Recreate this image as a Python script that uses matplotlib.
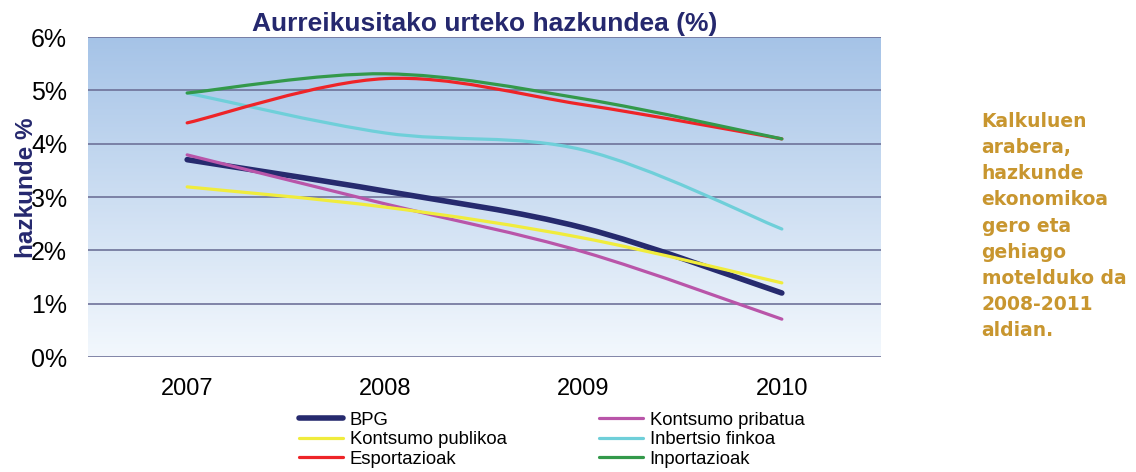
import numpy as np
import matplotlib
matplotlib.use("Agg")
import matplotlib.pyplot as plt
from matplotlib.path import Path
from matplotlib.patches import PathPatch
from matplotlib.lines import Line2D
from matplotlib.colors import LinearSegmentedColormap

years = ["2007", "2008", "2009", "2010"]
y_ticks = [0, 1, 2, 3, 4, 5, 6]
y_tick_labels = ["0%", "1%", "2%", "3%", "4%", "5%", "6%"]

bpg = [3.70, 3.11, 2.42, 1.20]
kontsumo_pribatua = [3.79, 2.87, 1.97, 0.71]
kontsumo_publikoa = [3.19, 2.81, 2.23, 1.39]
inbertsio_finkoa = [4.95, 4.20, 3.88, 2.40]
esportazioak = [4.39, 5.22, 4.73, 4.09]
inportazioak = [4.95, 5.31, 4.84, 4.09]

series_names = ["BPG", "Kontsumo pribatua", "Kontsumo publikoa",
                "Inbertsio finkoa", "Esportazioak", "Inportazioak"]
series_values = [bpg, kontsumo_pribatua, kontsumo_publikoa,
                 inbertsio_finkoa, esportazioak, inportazioak]
colors = ["#262a6e", "#b955a9", "#f0ec3c", "#6fcfd9", "#ee2428", "#33994a"]
widths = [4.0, 2.3, 2.3, 2.3, 2.3, 2.3]

note = "Kalkuluen\narabera,\nhazkunde\nekonomikoa\ngero eta\ngehiago\nmotelduko da\n2008-2011\naldian."

NAVY = "#25286e"
GRID = "#6e7299"


def smooth_path(xs, ys):
    # Excel-style smoothed line: Catmull-Rom segments as cubic Beziers
    pts = np.column_stack([xs, ys]).astype(float)
    ext = np.vstack([pts[0], pts, pts[-1]])
    verts = [pts[0]]
    codes = [Path.MOVETO]
    for i in range(len(pts) - 1):
        p0, p1, p2, p3 = ext[i], ext[i + 1], ext[i + 2], ext[i + 3]
        c1 = p1 + (p2 - p0) / 6.0
        c2 = p2 - (p3 - p1) / 6.0
        verts += [c1, c2, p2]
        codes += [Path.CURVE4] * 3
    return Path(verts, codes)


fig = plt.figure(figsize=(11.36, 4.72), dpi=100)
ax = fig.add_axes([0.0775, 0.2436, 0.698, 0.678])

x = np.arange(len(years))
ax.set_xlim(-0.5, len(years) - 0.5)
ax.set_ylim(0, 6)

# gradient plot-area fill
cmap = LinearSegmentedColormap.from_list("bg", ["#f3f8fd", "#a5c3e7"])
grad = np.linspace(0, 1, 256).reshape(-1, 1)
ax.imshow(grad, extent=[-0.5, len(years) - 0.5, 0, 6], origin="lower",
          aspect="auto", cmap=cmap, zorder=0)

for t in y_ticks:
    ax.axhline(t, color=GRID, lw=1.2, zorder=1)

for name, vals, c, w in zip(series_names, series_values, colors, widths):
    patch = PathPatch(smooth_path(x, vals), fill=False, edgecolor=c, lw=w,
                      capstyle="round", joinstyle="round", zorder=3)
    ax.add_patch(patch)

for s in ax.spines.values():
    s.set_visible(False)

ax.set_xticks(x)
ax.set_xticklabels(years, fontsize=17, family="Liberation Sans")
ax.set_yticks(y_ticks)
ax.set_yticklabels(y_tick_labels, fontsize=18, family="Liberation Sans")
ax.tick_params(axis="both", length=0)
ax.tick_params(axis="x", pad=15)
ax.tick_params(axis="y", pad=15)

# the reference label sits partly over the tick labels
ax.set_ylabel("hazkunde %", fontsize=17.5, fontweight="bold", color=NAVY,
              family="Liberation Sans")
ax.yaxis.set_label_coords(-0.063, 0.53)

ax.set_title("Aurreikusitako urteko hazkundea (%)", fontsize=19, fontweight="bold",
             color=NAVY, family="Liberation Sans", pad=4)

handles = {n: Line2D([], [], color=c, lw=w, solid_capstyle="round")
           for n, c, w in zip(series_names, colors, widths)}
order = ["BPG", "Kontsumo publikoa", "Esportazioak",
         "Kontsumo pribatua", "Inbertsio finkoa", "Inportazioak"]
leg = fig.legend([handles[n] for n in order], order, ncol=2,
                 loc="upper left", bbox_to_anchor=(0.263, 0.128),
                 frameon=False, prop={"family": "Liberation Sans", "size": 13.3},
                 handlelength=2.4, handletextpad=0.35, columnspacing=5.0,
                 labelspacing=0.14, borderaxespad=0, borderpad=0)

fig.text(0.864, 0.762, note, fontsize=13.5, fontweight="bold", color="#c8962f",
         family="DejaVu Sans", va="top", ha="left", linespacing=1.47)

fig.savefig("out.png", dpi=100)
